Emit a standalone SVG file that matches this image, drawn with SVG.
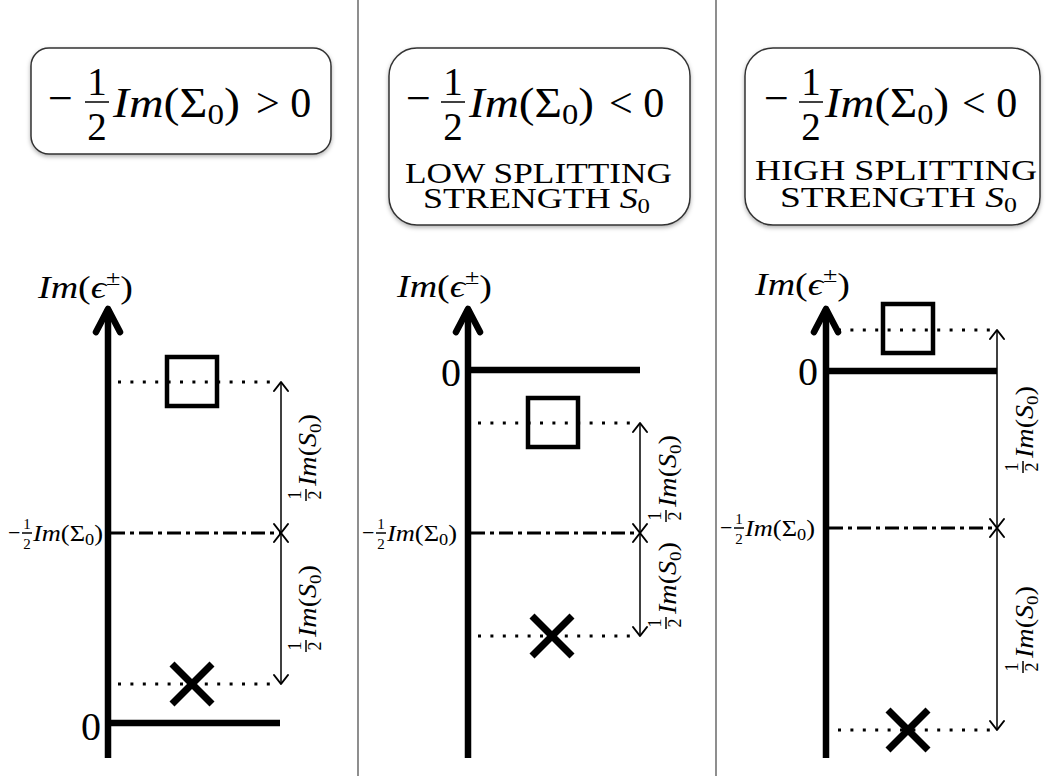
<svg xmlns="http://www.w3.org/2000/svg" width="1046" height="776" viewBox="0 0 1046 776">
<defs>
<style>
.ser{font-family:"Liberation Serif","DejaVu Serif",serif;fill:#000}
.it{font-style:italic}
.box{fill:#fff;stroke:#333;stroke-width:1.5}
.axis{fill:none;stroke:#000;stroke-width:6.5;marker-end:url(#big)}
.zero{stroke:#000;stroke-width:6.5}
.dot{stroke:#000;stroke-width:3;stroke-dasharray:3 9.4}
.dd{stroke:#000;stroke-width:3;stroke-dasharray:14 5 4 5}
.dim{stroke:#000;stroke-width:1.5;marker-start:url(#ah);marker-end:url(#ah)}
.sq{fill:none;stroke:#000;stroke-width:4.5}
.x{stroke:#000;stroke-width:7}
.bar{stroke:#000;stroke-width:1.5}
.div{stroke:#444;stroke-width:1.2}
</style>
<marker id="ah" markerUnits="userSpaceOnUse" markerWidth="24" markerHeight="24" viewBox="-12 -12 24 24" refX="0" refY="0" orient="auto-start-reverse" overflow="visible">
<path d="M-9,-7 L0,0 L-9,7" fill="none" stroke="#000" stroke-width="2" stroke-linecap="round" stroke-linejoin="round"/>
</marker>
<marker id="big" markerUnits="userSpaceOnUse" markerWidth="60" markerHeight="60" viewBox="-30 -30 60 60" refX="0" refY="0" orient="auto" overflow="visible">
<path d="M-23,-12 L0,0 L-23,12" fill="none" stroke="#000" stroke-width="6.5" stroke-linecap="round" stroke-linejoin="round"/>
</marker>
<filter id="sh" x="-10%" y="-10%" width="120%" height="130%">
<feDropShadow dx="0" dy="2" stdDeviation="2" flood-color="#000" flood-opacity="0.3"/>
</filter>
</defs>
<rect width="1046" height="776" fill="#fff"/>

<g id="dividers">
<line class="div" x1="358" y1="0" x2="358" y2="776"/>
<line class="div" x1="716" y1="0" x2="716" y2="776"/>
</g>

<!-- Headers -->
<g id="box1">
<rect class="box" x="31" y="48" width="300" height="106" rx="18" filter="url(#sh)"/>
<text class="ser" x="48" y="113" font-size="44">−</text>
<text class="ser" x="97" y="95" font-size="39" text-anchor="middle">1</text>
<line class="bar" x1="85" y1="102" x2="109" y2="102" stroke-width="2"/>
<text class="ser" x="97" y="140" font-size="39" text-anchor="middle">2</text>
<text class="ser" x="113" y="117" font-size="42" textLength="127" lengthAdjust="spacingAndGlyphs"><tspan class="it">Im</tspan>(Σ<tspan font-size="29" dy="7">0</tspan><tspan dy="-7">)</tspan></text>
<text class="ser" x="256" y="117" font-size="42">&gt; 0</text>
</g>

<g id="box2">
<rect class="box" x="389" y="48" width="301" height="177" rx="28" filter="url(#sh)"/>
<text class="ser" x="406" y="113" font-size="44">−</text>
<text class="ser" x="453" y="95" font-size="39" text-anchor="middle">1</text>
<line class="bar" x1="441" y1="102" x2="465" y2="102" stroke-width="2"/>
<text class="ser" x="453" y="140" font-size="39" text-anchor="middle">2</text>
<text class="ser" x="469" y="117" font-size="42" textLength="125" lengthAdjust="spacingAndGlyphs"><tspan class="it">Im</tspan>(Σ<tspan font-size="29" dy="7">0</tspan><tspan dy="-7">)</tspan></text>
<text class="ser" x="609" y="117" font-size="42">&lt; 0</text>
<text class="ser" x="405" y="183" font-size="29" textLength="267" lengthAdjust="spacingAndGlyphs">LOW SPLITTING</text>
<text class="ser" x="423" y="208" font-size="29" textLength="227" lengthAdjust="spacingAndGlyphs">STRENGTH <tspan class="it">S</tspan><tspan font-size="20" dy="5">0</tspan></text>
</g>

<g id="box3">
<rect class="box" x="745" y="48" width="295" height="177" rx="28" filter="url(#sh)"/>
<text class="ser" x="764" y="113" font-size="44">−</text>
<text class="ser" x="811" y="95" font-size="39" text-anchor="middle">1</text>
<line class="bar" x1="799" y1="102" x2="823" y2="102" stroke-width="2"/>
<text class="ser" x="811" y="140" font-size="39" text-anchor="middle">2</text>
<text class="ser" x="825" y="117" font-size="42" textLength="124" lengthAdjust="spacingAndGlyphs"><tspan class="it">Im</tspan>(Σ<tspan font-size="29" dy="7">0</tspan><tspan dy="-7">)</tspan></text>
<text class="ser" x="962" y="117" font-size="42">&lt; 0</text>
<text class="ser" x="755" y="180" font-size="29" textLength="282" lengthAdjust="spacingAndGlyphs">HIGH SPLITTING</text>
<text class="ser" x="780" y="207" font-size="29" textLength="237" lengthAdjust="spacingAndGlyphs">STRENGTH <tspan class="it">S</tspan><tspan font-size="20" dy="5">0</tspan></text>
</g>

<g id="connectors">
<line class="dot" x1="118" y1="382" x2="276" y2="382"/>
<line class="dot" x1="118" y1="684" x2="276" y2="684"/>
<line class="dd" x1="111" y1="533" x2="281" y2="533"/>
<line class="dim" x1="281" y1="382" x2="281" y2="533"/>
<line class="dim" x1="281" y1="533" x2="281" y2="684"/>

<line class="dot" x1="478" y1="423" x2="636" y2="423"/>
<line class="dot" x1="478" y1="636" x2="636" y2="636"/>
<line class="dd" x1="471" y1="533" x2="640" y2="533"/>
<line class="dim" x1="640" y1="423" x2="640" y2="533"/>
<line class="dim" x1="640" y1="533" x2="640" y2="636"/>

<line class="dot" x1="838" y1="330" x2="993" y2="330"/>
<line class="dot" x1="838" y1="730" x2="993" y2="730"/>
<line class="dd" x1="829" y1="528" x2="997" y2="528"/>
<line class="dim" x1="997" y1="330" x2="997" y2="528"/>
<line class="dim" x1="997" y1="528" x2="997" y2="730"/>
</g>

<!-- Panel 1 -->
<g id="axis1">
<line class="axis" x1="108" y1="758" x2="108" y2="309"/>
<line class="zero" x1="108" y1="723" x2="280" y2="723"/>
<text class="ser" x="101" y="740" font-size="40" text-anchor="end">0</text>
<text class="ser" x="38" y="298" font-size="32" textLength="95" lengthAdjust="spacingAndGlyphs"><tspan class="it">Im</tspan>(<tspan class="it">ϵ</tspan><tspan font-size="22" dy="-13">±</tspan><tspan dy="13">)</tspan></text>
<g transform="translate(8,533)">
<text class="ser" x="0" y="7" font-size="22">−</text>
<text class="ser" x="19" y="-4" font-size="15" text-anchor="middle">1</text>
<line class="bar" x1="14" y1="0" x2="24" y2="0" stroke-width="1"/>
<text class="ser" x="19" y="16" font-size="15" text-anchor="middle">2</text>
<text class="ser" x="25" y="8" font-size="23" textLength="70" lengthAdjust="spacingAndGlyphs"><tspan class="it">Im</tspan>(Σ<tspan font-size="16" dy="4">0</tspan><tspan dy="-4">)</tspan></text>
</g>
</g>
<g id="state1">
<rect class="sq" x="167" y="357" width="50" height="49"/>
<line class="x" x1="172" y1="664" x2="212" y2="704"/>
<line class="x" x1="212" y1="664" x2="172" y2="704"/>
</g>
<g id="labels1">
<g transform="translate(316,457) rotate(-90)">
<text class="ser" x="-38" y="-15" font-size="18" text-anchor="middle">1</text>
<line class="bar" x1="-44" y1="-10" x2="-32" y2="-10" stroke-width="1"/>
<text class="ser" x="-38" y="5" font-size="18" text-anchor="middle">2</text>
<text class="ser" x="-29" y="0" font-size="25" textLength="72" lengthAdjust="spacingAndGlyphs"><tspan class="it">Im</tspan>(<tspan class="it">S</tspan><tspan font-size="17" dy="5">0</tspan><tspan dy="-5">)</tspan></text>
</g>
<g transform="translate(316,608) rotate(-90)">
<text class="ser" x="-38" y="-15" font-size="18" text-anchor="middle">1</text>
<line class="bar" x1="-44" y1="-10" x2="-32" y2="-10" stroke-width="1"/>
<text class="ser" x="-38" y="5" font-size="18" text-anchor="middle">2</text>
<text class="ser" x="-29" y="0" font-size="25" textLength="72" lengthAdjust="spacingAndGlyphs"><tspan class="it">Im</tspan>(<tspan class="it">S</tspan><tspan font-size="17" dy="5">0</tspan><tspan dy="-5">)</tspan></text>
</g>
</g>

<!-- Panel 2 -->
<g id="axis2">
<line class="axis" x1="468" y1="758" x2="468" y2="309"/>
<line class="zero" x1="468" y1="370" x2="640" y2="370"/>
<text class="ser" x="461" y="386" font-size="40" text-anchor="end">0</text>
<text class="ser" x="397" y="297" font-size="32" textLength="95" lengthAdjust="spacingAndGlyphs"><tspan class="it">Im</tspan>(<tspan class="it">ϵ</tspan><tspan font-size="22" dy="-13">±</tspan><tspan dy="13">)</tspan></text>
<g transform="translate(362,533)">
<text class="ser" x="0" y="7" font-size="22">−</text>
<text class="ser" x="19" y="-4" font-size="15" text-anchor="middle">1</text>
<line class="bar" x1="14" y1="0" x2="24" y2="0" stroke-width="1"/>
<text class="ser" x="19" y="16" font-size="15" text-anchor="middle">2</text>
<text class="ser" x="25" y="8" font-size="23" textLength="70" lengthAdjust="spacingAndGlyphs"><tspan class="it">Im</tspan>(Σ<tspan font-size="16" dy="4">0</tspan><tspan dy="-4">)</tspan></text>
</g>
</g>
<g id="state2">
<rect class="sq" x="528" y="398" width="50" height="49"/>
<line class="x" x1="532" y1="616" x2="572" y2="656"/>
<line class="x" x1="572" y1="616" x2="532" y2="656"/>
</g>
<g id="labels2">
<g transform="translate(676,478) rotate(-90)">
<text class="ser" x="-38" y="-15" font-size="18" text-anchor="middle">1</text>
<line class="bar" x1="-44" y1="-10" x2="-32" y2="-10" stroke-width="1"/>
<text class="ser" x="-38" y="5" font-size="18" text-anchor="middle">2</text>
<text class="ser" x="-29" y="0" font-size="25" textLength="72" lengthAdjust="spacingAndGlyphs"><tspan class="it">Im</tspan>(<tspan class="it">S</tspan><tspan font-size="17" dy="5">0</tspan><tspan dy="-5">)</tspan></text>
</g>
<g transform="translate(676,585) rotate(-90)">
<text class="ser" x="-38" y="-15" font-size="18" text-anchor="middle">1</text>
<line class="bar" x1="-44" y1="-10" x2="-32" y2="-10" stroke-width="1"/>
<text class="ser" x="-38" y="5" font-size="18" text-anchor="middle">2</text>
<text class="ser" x="-29" y="0" font-size="25" textLength="72" lengthAdjust="spacingAndGlyphs"><tspan class="it">Im</tspan>(<tspan class="it">S</tspan><tspan font-size="17" dy="5">0</tspan><tspan dy="-5">)</tspan></text>
</g>
</g>

<!-- Panel 3 -->
<g id="axis3">
<line class="axis" x1="826" y1="758" x2="826" y2="309"/>
<line class="zero" x1="826" y1="371" x2="997" y2="371"/>
<text class="ser" x="818" y="385" font-size="40" text-anchor="end">0</text>
<text class="ser" x="755" y="295" font-size="32" textLength="95" lengthAdjust="spacingAndGlyphs"><tspan class="it">Im</tspan>(<tspan class="it">ϵ</tspan><tspan font-size="22" dy="-13">±</tspan><tspan dy="13">)</tspan></text>
<g transform="translate(720,528)">
<text class="ser" x="0" y="7" font-size="22">−</text>
<text class="ser" x="19" y="-4" font-size="15" text-anchor="middle">1</text>
<line class="bar" x1="14" y1="0" x2="24" y2="0" stroke-width="1"/>
<text class="ser" x="19" y="16" font-size="15" text-anchor="middle">2</text>
<text class="ser" x="25" y="8" font-size="23" textLength="70" lengthAdjust="spacingAndGlyphs"><tspan class="it">Im</tspan>(Σ<tspan font-size="16" dy="4">0</tspan><tspan dy="-4">)</tspan></text>
</g>
</g>
<g id="state3">
<rect class="sq" x="883" y="304" width="50" height="49"/>
<line class="x" x1="888" y1="710" x2="928" y2="750"/>
<line class="x" x1="928" y1="710" x2="888" y2="750"/>
</g>
<g id="labels3">
<g transform="translate(1033,429) rotate(-90)">
<text class="ser" x="-38" y="-15" font-size="18" text-anchor="middle">1</text>
<line class="bar" x1="-44" y1="-10" x2="-32" y2="-10" stroke-width="1"/>
<text class="ser" x="-38" y="5" font-size="18" text-anchor="middle">2</text>
<text class="ser" x="-29" y="0" font-size="25" textLength="72" lengthAdjust="spacingAndGlyphs"><tspan class="it">Im</tspan>(<tspan class="it">S</tspan><tspan font-size="17" dy="5">0</tspan><tspan dy="-5">)</tspan></text>
</g>
<g transform="translate(1033,629) rotate(-90)">
<text class="ser" x="-38" y="-15" font-size="18" text-anchor="middle">1</text>
<line class="bar" x1="-44" y1="-10" x2="-32" y2="-10" stroke-width="1"/>
<text class="ser" x="-38" y="5" font-size="18" text-anchor="middle">2</text>
<text class="ser" x="-29" y="0" font-size="25" textLength="72" lengthAdjust="spacingAndGlyphs"><tspan class="it">Im</tspan>(<tspan class="it">S</tspan><tspan font-size="17" dy="5">0</tspan><tspan dy="-5">)</tspan></text>
</g>
</g>
</svg>
